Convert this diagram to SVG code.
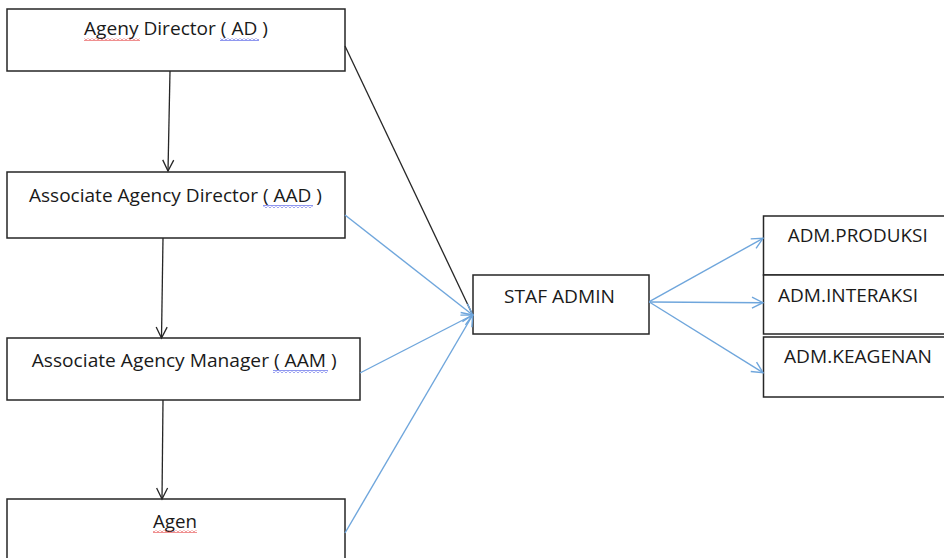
<svg xmlns="http://www.w3.org/2000/svg" width="944" height="558" viewBox="0 0 944 558">
<style>
.box{fill:#fff;stroke:#262626;stroke-width:1.5}
.t{font-family:"Open Sans","Liberation Sans",sans-serif;font-size:18px;fill:#1a1a1a}
.k{fill:none;stroke:#262626;stroke-width:1.3}
.b{fill:none;stroke:#6fa6dc;stroke-width:1.4}
</style>
<defs>
<marker id="ak" markerUnits="userSpaceOnUse" markerWidth="14" markerHeight="14" refX="11" refY="5.5" orient="auto" overflow="visible">
<path d="M0,0 L11,5.5 L0,11" fill="none" stroke="#262626" stroke-width="1.3"/>
</marker>
<marker id="ab" markerUnits="userSpaceOnUse" markerWidth="14" markerHeight="14" refX="11" refY="5.5" orient="auto" overflow="visible">
<path d="M0,0 L11,5.5 L0,11" fill="none" stroke="#6fa6dc" stroke-width="1.4"/>
</marker>
<pattern id="wr" width="4" height="3" patternUnits="userSpaceOnUse">
<path d="M0,2.5 L2,0.5 L4,2.5" fill="none" stroke="#e02020" stroke-width="1"/>
</pattern>
<pattern id="wb" width="4" height="3" patternUnits="userSpaceOnUse">
<path d="M0,2.5 L2,0.5 L4,2.5" fill="none" stroke="#2030e0" stroke-width="1"/>
</pattern>
</defs>

<g id="node-ad">
<rect class="box" x="7" y="9" width="338" height="62"/>
<text class="t" x="84" y="35" textLength="184" lengthAdjust="spacingAndGlyphs">Ageny Director ( AD )</text>
<rect x="84" y="38" width="56" height="3" fill="url(#wr)"/>
<rect x="220" y="38" width="39" height="3" fill="url(#wb)"/>
</g>

<g id="node-aad">
<rect class="box" x="7" y="172" width="338" height="66"/>
<text class="t" x="29" y="202" textLength="293" lengthAdjust="spacingAndGlyphs">Associate Agency Director ( AAD )</text>
<rect x="263" y="205" width="50" height="3" fill="url(#wb)"/>
</g>

<g id="node-aam">
<rect class="box" x="7" y="338" width="353" height="62"/>
<text class="t" x="31.7" y="367" textLength="305" lengthAdjust="spacingAndGlyphs">Associate Agency Manager ( AAM )</text>
<rect x="273" y="370" width="55" height="3" fill="url(#wb)"/>
</g>

<g id="node-agen">
<rect class="box" x="7" y="499" width="338" height="70"/>
<text class="t" x="153" y="528" textLength="44" lengthAdjust="spacingAndGlyphs">Agen</text>
<rect x="153" y="530" width="44" height="3" fill="url(#wr)"/>
</g>

<g id="node-staf">
<rect class="box" x="473" y="275" width="176" height="59"/>
<text class="t" x="504" y="303" textLength="111" lengthAdjust="spacingAndGlyphs">STAF ADMIN</text>
</g>

<g id="node-produksi">
<rect class="box" x="763.5" y="216" width="190" height="59"/>
<text class="t" x="787.7" y="242" textLength="140" lengthAdjust="spacingAndGlyphs">ADM.PRODUKSI</text>
</g>

<g id="node-interaksi">
<rect class="box" x="763.5" y="275" width="190" height="59"/>
<text class="t" x="778" y="302" textLength="140" lengthAdjust="spacingAndGlyphs">ADM.INTERAKSI</text>
</g>

<g id="node-keagenan">
<rect class="box" x="763.5" y="337" width="190" height="60"/>
<text class="t" x="784" y="363" textLength="148" lengthAdjust="spacingAndGlyphs">ADM.KEAGENAN</text>
</g>

<g id="connectors">
<line class="k" x1="170" y1="71" x2="168" y2="171" marker-end="url(#ak)"/>
<line class="k" x1="163" y1="238" x2="161.5" y2="338" marker-end="url(#ak)"/>
<line class="k" x1="163" y1="400" x2="162" y2="499" marker-end="url(#ak)"/>
<line class="k" x1="345" y1="46" x2="472.7" y2="315"/>
<line class="b" x1="345" y1="215" x2="472.7" y2="315" marker-end="url(#ab)"/>
<line class="b" x1="360" y1="373" x2="472.7" y2="315" marker-end="url(#ab)"/>
<line class="b" x1="345" y1="533" x2="472.7" y2="315" marker-end="url(#ab)"/>
<line class="b" x1="649.3" y1="301.7" x2="763" y2="238.3" marker-end="url(#ab)"/>
<line class="b" x1="649.3" y1="302" x2="763" y2="302.7" marker-end="url(#ab)"/>
<line class="b" x1="649.3" y1="302" x2="763" y2="372.7" marker-end="url(#ab)"/>
</g>
</svg>
